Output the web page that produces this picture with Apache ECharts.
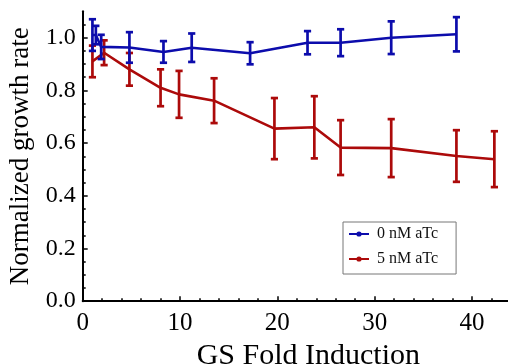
<!DOCTYPE html>
<html>
<head>
<meta charset="utf-8">
<script src="https://cdn.jsdelivr.net/npm/echarts@6/dist/echarts.min.js"></script>
<style>html,body{margin:0;padding:0;background:#fff;}#c{width:508px;height:364px;}</style>
</head>
<body>
<div id="c"></div>
<script>
// ---- data ----
const seriesNames = ['0 nM aTc', '5 nM aTc'];
const blueX = [1.0, 1.35, 1.9, 4.8, 8.3, 11.2, 17.2, 23.1, 26.5, 31.7, 38.4];
const blueY = [1.01, 1.01, 0.965, 0.963, 0.946, 0.962, 0.941, 0.981, 0.981, 1.0, 1.013];
const blueErr = [0.06, 0.035, 0.046, 0.058, 0.041, 0.054, 0.042, 0.044, 0.051, 0.062, 0.065];
const redX = [1.0, 2.2, 4.8, 8.0, 9.9, 13.5, 19.7, 23.8, 26.5, 31.7, 38.4, 42.3];
const redY = [0.91, 0.943, 0.88, 0.81, 0.785, 0.761, 0.655, 0.66, 0.583, 0.581, 0.551, 0.539];
const redErr = [0.06, 0.047, 0.062, 0.07, 0.089, 0.085, 0.116, 0.118, 0.104, 0.11, 0.098, 0.106];
const xTicks = [0, 10, 20, 30, 40];
const yTicks = [0, 0.2, 0.4, 0.6, 0.8, 1.0];
const xMinorTicks = [2,4,6,8,12,14,16,18,22,24,26,28,32,34,36,38,42];
const yMinorTicks = [0.05,0.1,0.15,0.25,0.3,0.35,0.45,0.5,0.55,0.65,0.7,0.75,0.85,0.9,0.95,1.05];

const BLUE = '#0c0cac';
const RED = '#ac0a0a';
const FONT = 'Liberation Serif';

function pts(xs, ys) { return xs.map((x, i) => [x, ys[i]]); }
function errs(xs, ys, es) { return xs.map((x, i) => [x, ys[i] - es[i], ys[i] + es[i]]); }

function errRender(color) {
  return function (params, api) {
    const x = api.value(0);
    const lo = api.coord([x, api.value(1)]);
    const hi = api.coord([x, api.value(2)]);
    const hw = 3.6;
    const st = { stroke: color, lineWidth: 2.7 };
    return {
      type: 'group',
      children: [
        { type: 'line', shape: { x1: lo[0], y1: lo[1], x2: hi[0], y2: hi[1] }, style: st },
        { type: 'line', shape: { x1: lo[0] - hw, y1: lo[1], x2: lo[0] + hw, y2: lo[1] }, style: st },
        { type: 'line', shape: { x1: hi[0] - hw, y1: hi[1], x2: hi[0] + hw, y2: hi[1] }, style: st }
      ]
    };
  };
}

const legendIcon = 'path://M0,2.1 L20,2.1 L20,3.9 L0,3.9 Z M7.4,3 A2.6,2.6 0 1 1 12.6,3 A2.6,2.6 0 1 1 7.4,3 Z';

const chart = echarts.init(document.getElementById('c'));
chart.setOption({
  animation: false,
  backgroundColor: '#fff',
  grid: { left: 82.7, top: 11.35, right: 0, bottom: 62.8, containLabel: false, outerBoundsMode: 'none' },
  legend: {
    data: seriesNames,
    orient: 'vertical',
    left: 343, top: 222,
    padding: [4, 18, 7, 6],
    itemGap: 9,
    itemWidth: 20, itemHeight: 6,
    icon: legendIcon,
    backgroundColor: '#fff',
    borderColor: '#777', borderWidth: 1,
    textStyle: { fontFamily: FONT, fontSize: 16, color: '#111', lineHeight: 16, padding: [0, 0, 0, 3] }
  },
  xAxis: [{
    type: 'value', min: 0, max: 43.7,
    splitLine: { show: false },
    axisLine: { lineStyle: { color: '#000', width: 2 } },
    axisTick: { inside: true, length: 5, customValues: xTicks, lineStyle: { color: '#000', width: 1.5 } },
    axisLabel: { customValues: xTicks, margin: 10, color: '#000', fontFamily: FONT, fontSize: 25 },
    name: 'GS Fold Induction', nameLocation: 'middle', nameGap: 33,
    nameTextStyle: { fontFamily: FONT, fontSize: 30, color: '#000', padding: [0, 0, 0, 26] }
  }, {
    type: 'value', min: 0, max: 43.7, gridIndex: 0, position: 'bottom',
    splitLine: { show: false },
    axisLine: { show: false },
    axisTick: { inside: true, length: 3, customValues: xMinorTicks, lineStyle: { color: '#000', width: 1.5 } },
    axisLabel: { show: false }
  }],
  yAxis: [{
    type: 'value', min: 0, max: 1.1,
    splitLine: { show: false },
    axisLine: { lineStyle: { color: '#000', width: 2 } },
    axisTick: { inside: true, length: 5, customValues: yTicks, lineStyle: { color: '#000', width: 1.5 } },
    axisLabel: { customValues: yTicks, margin: 7, color: '#000', fontFamily: FONT, fontSize: 24,
      formatter: v => v.toFixed(1) },
    name: 'Normalized growth rate', nameLocation: 'middle', nameGap: 48,
    nameTextStyle: { fontFamily: FONT, fontSize: 27, color: '#000' }
  }, {
    type: 'value', min: 0, max: 1.1, position: 'left',
    splitLine: { show: false },
    axisLine: { show: false },
    axisTick: { inside: true, length: 3, customValues: yMinorTicks, lineStyle: { color: '#000', width: 1.5 } },
    axisLabel: { show: false }
  }],
  series: [
    {
      name: seriesNames[0], type: 'line', data: pts(blueX, blueY),
      symbol: 'none', color: BLUE, lineStyle: { width: 2.6, color: BLUE }, z: 3
    },
    {
      name: seriesNames[1], type: 'line', data: pts(redX, redY),
      symbol: 'none', color: RED, lineStyle: { width: 2.6, color: RED }, z: 2
    },
    {
      type: 'custom', data: errs(redX, redY, redErr), renderItem: errRender(RED),
      encode: { x: 0, y: [1, 2] }, z: 2
    },
    {
      type: 'custom', data: errs(blueX, blueY, blueErr), renderItem: errRender(BLUE),
      encode: { x: 0, y: [1, 2] }, z: 3
    }
  ]
});
</script>
</body>
</html>
